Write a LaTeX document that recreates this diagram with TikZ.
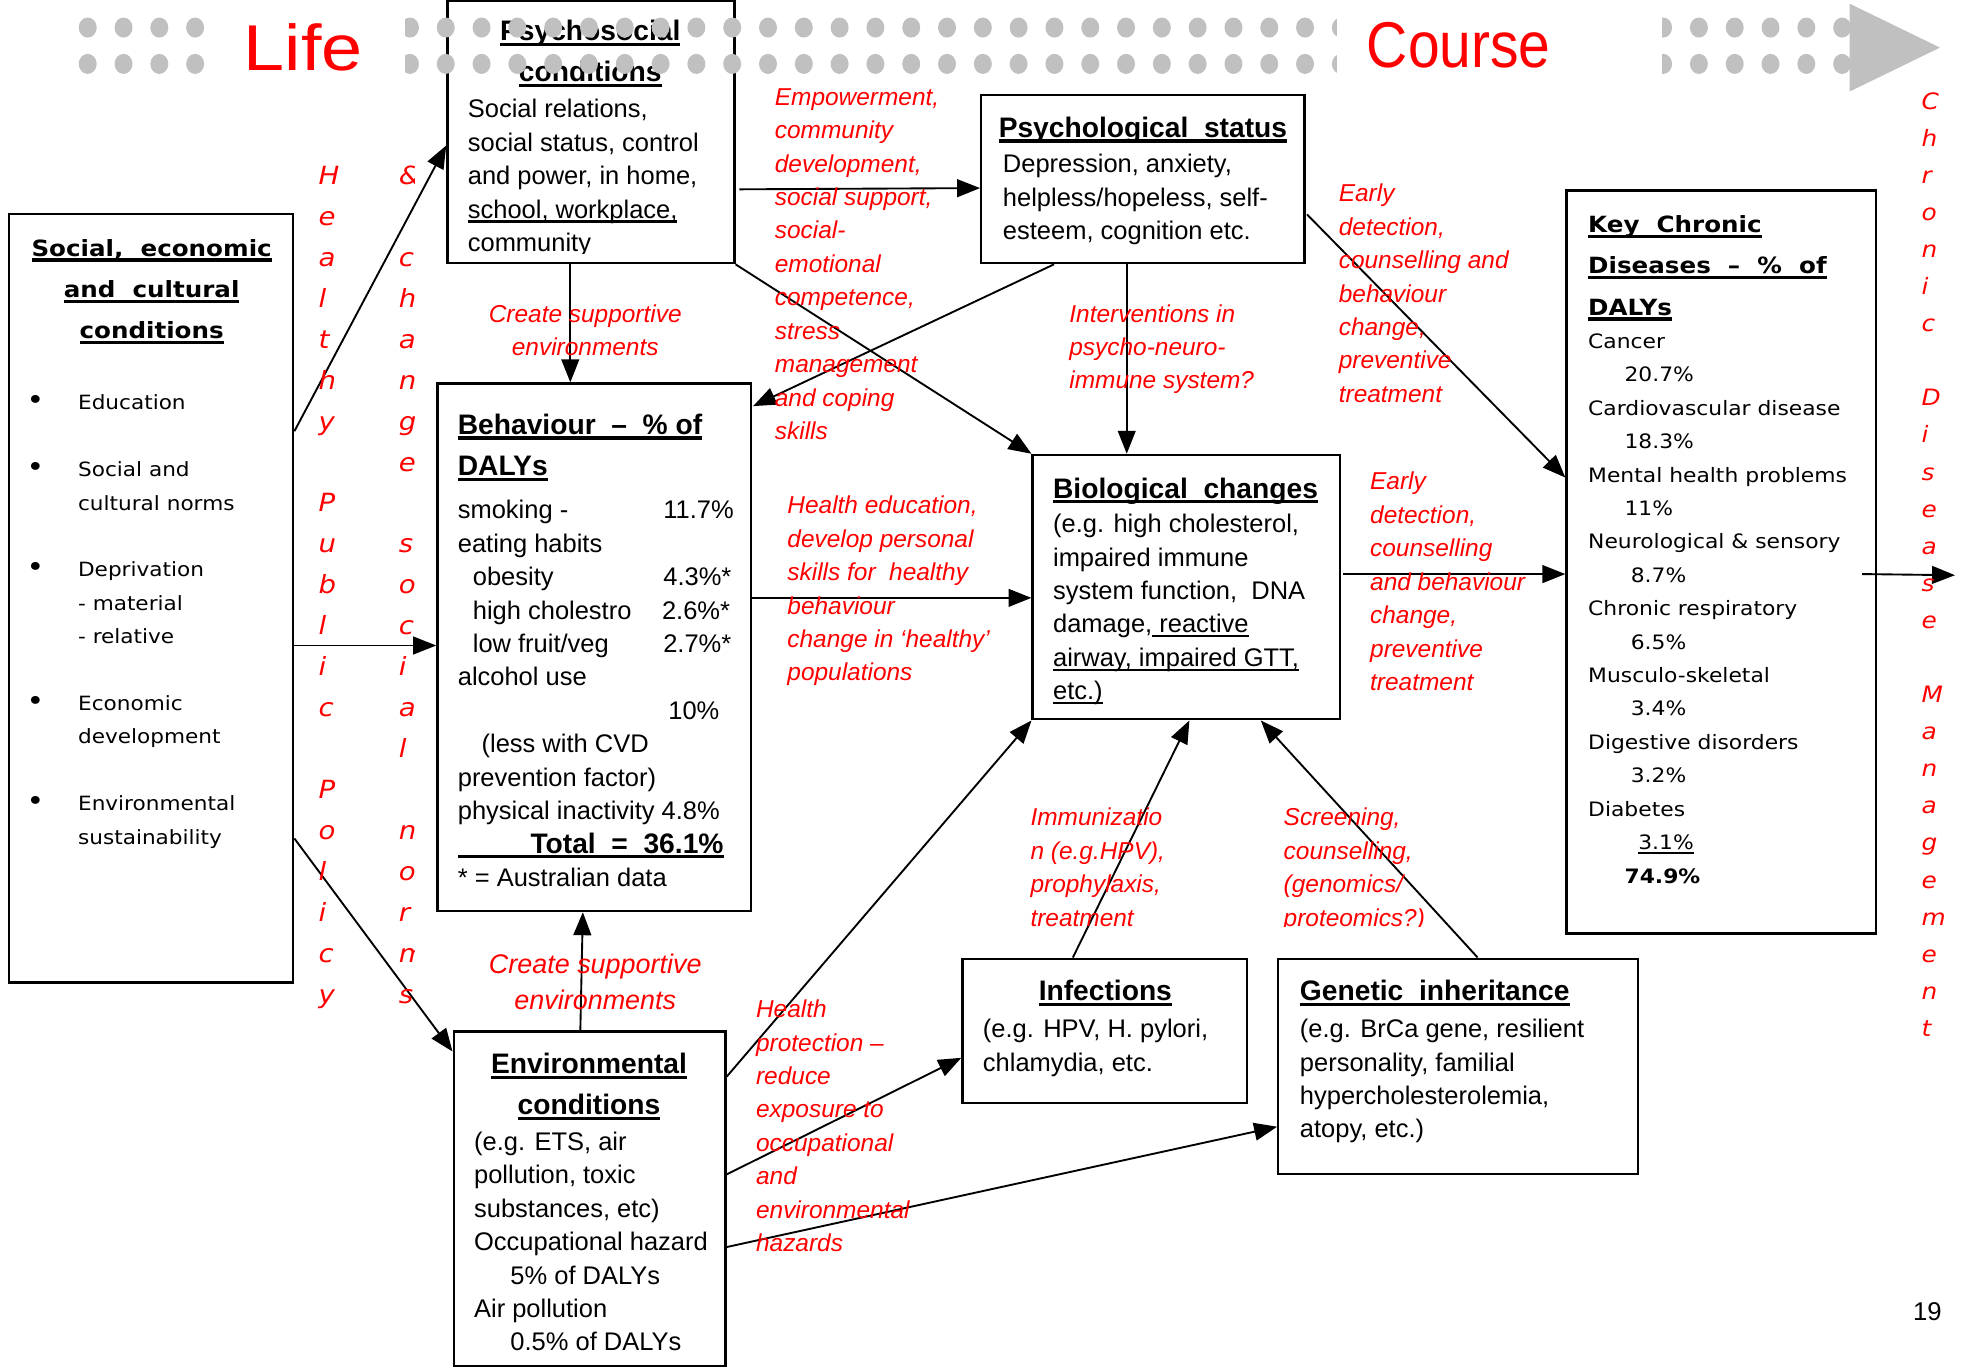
\documentclass[tikz,border=0pt]{standalone}
\usepackage{fontspec}
\setmainfont{Liberation Sans}
\newfontfamily\widefont[FakeStretch=1.1]{DejaVu Sans}
\usepackage{graphicx}
\usetikzlibrary{arrows.meta,fit,calc}
\definecolor{dotgray}{HTML}{C0C0C0}
\definecolor{lblred}{HTML}{FF0000}
\newcommand\ulT[1]{\leavevmode\setbox0=\hbox{#1}\rlap{\rule[-2.6pt]{\wd0}{1.5pt}}\box0}
\newcommand\ulB[1]{\leavevmode\setbox0=\hbox{#1}\rlap{\rule[-2.2pt]{\wd0}{1.1pt}}\box0}
\begin{document}
\begin{tikzpicture}[x=0.6pt,y=-0.6pt,
  box/.style={draw=black,line width=1.1pt,inner sep=0pt},
  arr/.style={draw=black,line width=0.9pt,-{Triangle[length=11pt,width=8.5pt]}},
  body/.style={anchor=north west,inner sep=0pt,align=left,font=\fontsize{12.2pt}{16pt}\selectfont},
  ttl/.style={inner sep=0pt,font=\bfseries\fontsize{13.5pt}{19.8pt}\selectfont},
  lbl/.style={inner sep=0pt,text=lblred,font=\itshape\fontsize{11.7pt}{16pt}\selectfont},
  wbody/.style={anchor=north west,inner sep=0pt,align=left,font=\widefont\fontsize{9.4pt}{16pt}\selectfont},
  wttl/.style={inner sep=0pt,font=\widefont\bfseries\fontsize{10.7pt}{19.8pt}\selectfont},
  vlet/.style={anchor=north west,inner sep=0pt,align=left,text=lblred,font=\widefont\itshape\fontsize{12pt}{19.6pt}\selectfont}
]
\fill[white] (0,0) rectangle (1568,1094);
\useasboundingbox (0,0) rectangle (1568,1094);

% ---------- boxes ----------
\node[box,fit={(7,171)(234,784)}] (soc) {};
\node[box,fit={(357,1)(586,210)}] (psy) {};
\node[box,fit={(783,76)(1041,210)}] (pst) {};
\node[box,fit={(349,306)(599,727)}] (beh) {};
\node[box,fit={(824,363)(1069,574)}] (bio) {};
\node[box,fit={(1250,152)(1497,745)}] (kcd) {};
\node[box,fit={(362,823)(579,1090)}] (env) {};
\node[box,fit={(768,765)(995,880)}] (inf) {};
\node[box,fit={(1020,765)(1307,937)}] (gen) {};

% ---------- box texts ----------
\node[wttl,align=center,anchor=north] (socT) at (121,181) {\strut\ulT{Social,\ \ economic}\\\ulT{and\ \ cultural}\\\ulT{conditions}};
\node[wbody,font=\widefont\fontsize{13pt}{16pt}\selectfont] (socD) at (21,308) {\strut•\\ \\•\\ \\ \\•\\ \\ \\ \\•\\ \\ \\•};
\node[wbody] (socI) at (62,308) {\strut Education\\ \\Social and\\cultural norms\\ \\Deprivation\\- material\\- relative\\ \\Economic\\development\\ \\Environmental\\sustainability};

\node[ttl,align=center,anchor=north] (psyT) at (471,9) {\strut\ulT{Psychosocial}\\\ulT{conditions}};
\begin{scope}
\clip (357,0) rectangle (586,202);
\node[body] (psyB) at (373,75) {\strut Social relations,\\social status, control\\and power, in home,\\\ulB{school, workplace,}\\community};
\end{scope}

\node[ttl,anchor=north] (pstT) at (912,86) {\strut\ulT{Psychological\ \ status}};
\node[body] (pstB) at (800,119) {\strut Depression, anxiety,\\helpless/hopeless, self-\\esteem, cognition etc.};

\node[ttl,align=left,anchor=north west] (behT) at (365,323) {\strut\ulT{Behaviour\ \ –\ \ \%\ of}\\\ulT{DALYs}};
\node[body] (behB) at (365,395) {\strut\makebox[98.4pt][l]{smoking -}11.7\%\\eating habits\\\hspace*{7.2pt}\makebox[91.2pt][l]{obesity}4.3\%*\\\hspace*{7.2pt}\makebox[90.6pt][l]{high cholestro}2.6\%*\\\hspace*{7.2pt}\makebox[91.2pt][l]{low fruit/veg}2.7\%*\\alcohol use\\\hspace*{100.8pt}10\%\\\hspace*{11.4pt}(less with CVD\\prevention factor)\\physical inactivity 4.8\%\\\ulT{\makebox[127.2pt][r]{\bfseries\fontsize{13.5pt}{16pt}\selectfont Total\ \ =\ \ 36.1\%}}\\{}* = Australian data};

\node[ttl,anchor=north] (bioT) at (946,374) {\strut\ulT{Biological\ \ changes}};
\node[body] (bioB) at (840,406) {\strut(e.g. high cholesterol,\\impaired immune\\system function,\ \ DNA\\damage,\ulB{\ reactive}\\\ulB{airway, impaired GTT,}\\\ulB{etc.)}};

\node[wttl,align=left,anchor=north west] (kcdT) at (1267,162) {\strut\ulT{Key\ \ Chronic}\\\ulT{Diseases\ \ –\ \ \%\ \ of}\\\ulT{DALYs}};
\node[wbody,font=\widefont\fontsize{9.5pt}{16pt}\selectfont] (kcdB) at (1267,259) {\strut Cancer\\\hspace*{17.4pt}20.7\%\\Cardiovascular disease\\\hspace*{17.4pt}18.3\%\\Mental health problems\\\hspace*{17.4pt}11\%\\Neurological \& sensory\\\hspace*{20.4pt}8.7\%\\Chronic respiratory\\\hspace*{20.4pt}6.5\%\\Musculo-skeletal\\\hspace*{20.4pt}3.4\%\\Digestive disorders\\\hspace*{20.4pt}3.2\%\\Diabetes\\\hspace*{24pt}\ulB{3.1\%}\\\hspace*{17.4pt}\textbf{74.9\%}};

\node[ttl,align=center,anchor=north] (envT) at (470,833) {\strut\ulT{Environmental}\\\ulT{conditions}};
\node[body] (envB) at (378,899) {\strut(e.g. ETS, air\\pollution, toxic\\substances, etc)\\Occupational hazard\\\hspace*{17.4pt}5\% of DALYs\\Air pollution\\\hspace*{17.4pt}0.5\% of DALYs};

\node[ttl,anchor=north] (infT) at (882,775) {\strut\ulT{Infections}};
\node[body] (infB) at (784,809) {\strut(e.g. HPV, H. pylori,\\chlamydia, etc.};

\node[ttl,anchor=north west] (genT) at (1037,775) {\strut\ulT{Genetic\ \ inheritance}};
\node[body] (genB) at (1037,809) {\strut(e.g. BrCa gene, resilient\\personality, familial\\hypercholesterolemia,\\atopy, etc.)};

% ---------- connectors ----------
\draw[arr] ($(soc.north east)+(0,174)$) -- ($(psy.north west)+(0,116)$);
\draw[arr] ($(soc.north east)+(0,345)$) -- ($(beh.north west)+(0,210)$);
\draw[arr] ($(soc.north east)+(0,499)$) -- ($(env.north west)+(0,17)$);
\draw[arr] ($(psy.south west)+(99,0)$) -- ($(beh.north west)+(107,0)$);
\draw[arr] ($(psy.north east)+(3,151)$) -- ($(pst.north west)+(0,75)$);
\draw[arr] (psy.south east) -- (bio.north west);
\draw[arr] ($(pst.south west)+(59,0)$) -- ($(beh.north east)+(1,19)$);
\draw[arr] ($(pst.south west)+(117,0)$) -- ($(bio.north west)+(76,0)$);
\draw[arr] ($(pst.north east)+(1,96)$) -- ($(kcd.north west)+(0,230)$);
\draw[arr] ($(beh.north east)+(0,172)$) -- ($(bio.north west)+(0,115)$);
\draw[arr] ($(bio.north east)+(2,96)$) -- ($(kcd.north west)+(0,307)$);
\coordinate (out) at (1560,459);
\draw[arr] ($(kcd.north east)+(-12,307)$) -- (out);
\draw[arr] ($(env.north west)+(102,0)$) -- ($(beh.south west)+(117,0)$);
\draw[arr] ($(env.north east)+(0,37)$) -- (bio.south west);
\draw[arr] ($(env.north east)+(0,115)$) -- ($(inf.north west)+(0,80)$);
\draw[arr] ($(env.north east)+(0,173)$) -- ($(gen.north west)+(0,135)$);
\draw[arr] ($(inf.north west)+(89,0)$) -- ($(bio.south west)+(126,0)$);
\draw[arr] ($(gen.north west)+(160,0)$) -- ($(bio.south west)+(183,0)$);

% ---------- red labels ----------
\node[lbl,align=center,anchor=north] (l1) at (467,238) {\strut Create supportive\\environments};
\node[lbl,align=left,anchor=north west] (l2) at (618,65) {\strut Empowerment,\\community\\development,\\social support,\\social-\\emotional\\competence,\\stress\\management\\and coping\\skills};
\node[lbl,align=left,anchor=north west] (l3) at (853,238) {\strut Interventions in\\psycho-neuro-\\immune system?};
\node[lbl,align=left,anchor=north west] (l4) at (1068,142) {\strut Early\\detection,\\counselling and\\behaviour\\change,\\preventive\\treatment};
\node[lbl,align=left,anchor=north west] (l5) at (628,391) {\strut Health education,\\develop personal\\skills for\ \ healthy\\behaviour\\change in ‘healthy’\\populations};
\node[lbl,align=left,anchor=north west] (l6) at (1093,372) {\strut Early\\detection,\\counselling\\and behaviour\\change,\\preventive\\treatment};
\node[lbl,align=left,anchor=north west] (l7) at (603,793) {\strut Health\\protection –\\reduce\\exposure to\\occupational\\and\\environmental\\hazards};
\begin{scope}
\clip (800,600) rectangle (1250,739);
\node[lbl,align=left,anchor=north west] (l8) at (822,640) {\strut Immunizatio\\n (e.g.HPV),\\prophylaxis,\\treatment};
\node[lbl,align=left,anchor=north west] (l9) at (1024,640) {\strut Screening,\\counselling,\\(genomics/\\proteomics?)};
\end{scope}
\node[lbl,align=center,anchor=north,font=\itshape\fontsize{12.9pt}{17.4pt}\selectfont] (l10) at (475,756) {\strut Create supportive\\environments};

% ---------- vertical texts ----------
\node[vlet] (v1) at (254,124) {\strut H\\e\\a\\l\\t\\h\\y\\ \\P\\u\\b\\l\\i\\c\\ \\P\\o\\l\\i\\c\\y};
\begin{scope}
\clip (290,100) rectangle (331,830);
\node[vlet] (v2) at (318,124) {\strut\&\\ \\c\\h\\a\\n\\g\\e\\ \\s\\o\\c\\i\\a\\l\\ \\n\\o\\r\\m\\s};
\end{scope}
\node[vlet,font=\widefont\itshape\fontsize{10.8pt}{17.76pt}\selectfont] (v3) at (1533,66) {\strut C\\h\\r\\o\\n\\i\\c\\ \\D\\i\\s\\e\\a\\s\\e\\ \\M\\a\\n\\a\\g\\e\\m\\e\\n\\t};

% ---------- banner ----------
\foreach \k in {0,...,49}{
  \fill[dotgray] ({70+28.57*\k},22) ellipse [x radius=4.3pt, y radius=4.8pt];
  \fill[dotgray] ({70+28.57*\k},51) ellipse [x radius=4.3pt, y radius=4.8pt];
}
\fill[white] (170,5) rectangle (323,70);
\fill[white] (1067,5) rectangle (1326,70);
\fill[dotgray] (1476,3) -- (1548,38) -- (1476,73) -- cycle;
\node[text=lblred,inner sep=0pt,font=\fontsize{31pt}{31pt}\selectfont] (life) at (242,38) {\scalebox{1.14}[1]{Life}};
\node[text=lblred,inner sep=0pt,font=\fontsize{31pt}{31pt}\selectfont] (course) at (1164,36) {\scalebox{0.88}[1]{Course}};

\node[inner sep=0pt,font=\fontsize{12.3pt}{16pt}\selectfont] (pg) at (1538,1047) {19};
\end{tikzpicture}
\end{document}
